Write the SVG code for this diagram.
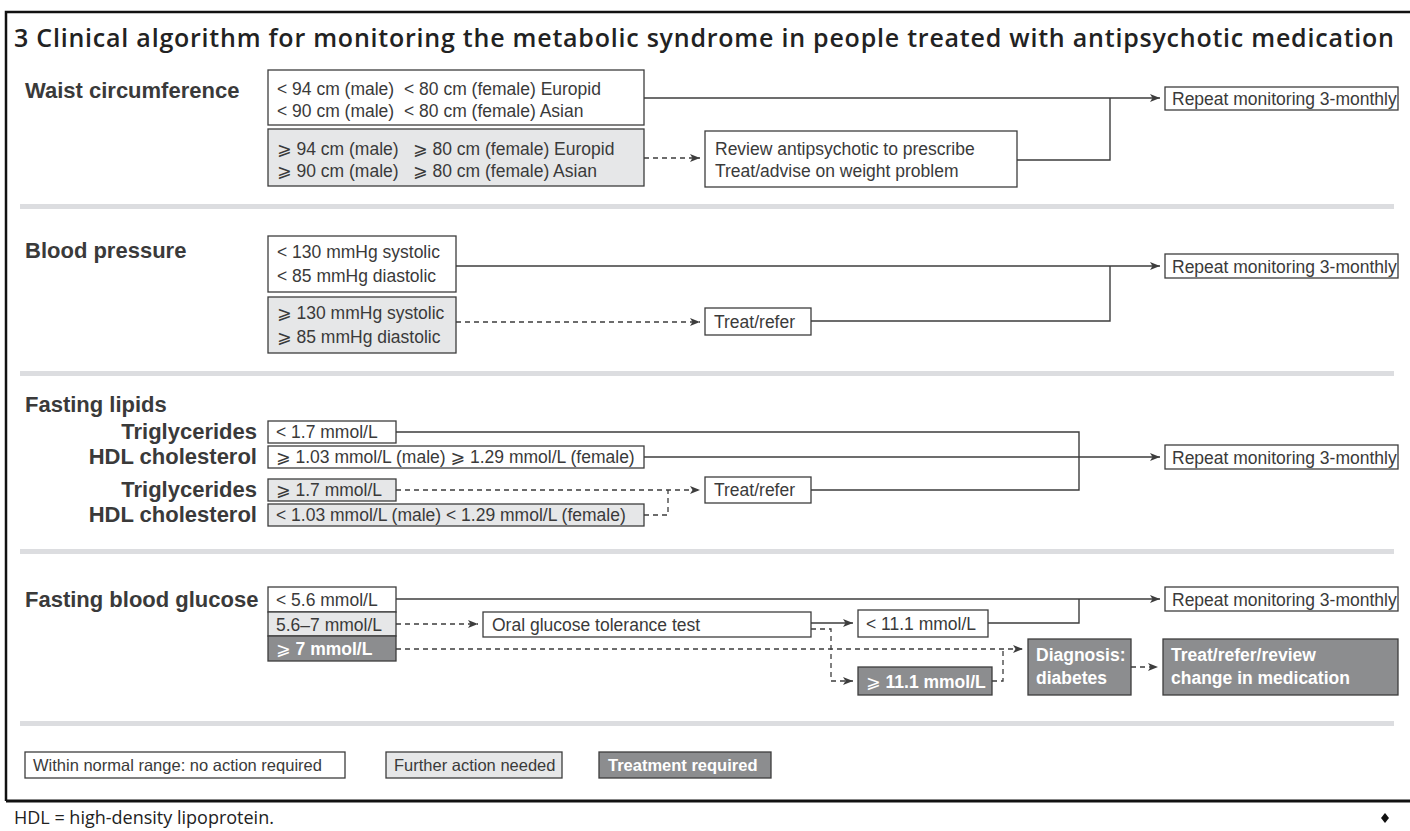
<svg xmlns="http://www.w3.org/2000/svg" width="1410" height="831" viewBox="0 0 1410 831">
<style>
  .bg{fill:#ffffff}
  .title{font-family:"Open Sans","Liberation Sans",sans-serif;font-weight:600;font-size:25px;fill:#222}
  .lbl{font-family:"Liberation Sans",Arial,sans-serif;font-weight:bold;font-size:22px;fill:#3a3a3a}
  .t{font-family:"Liberation Sans",Arial,"DejaVu Sans",sans-serif;font-size:17.5px;fill:#3a3a3a}
  .tw{font-family:"Liberation Sans",Arial,"DejaVu Sans",sans-serif;font-size:17.5px;fill:#ffffff;font-weight:bold}
  .lg{font-family:"Liberation Sans",Arial,sans-serif;font-size:16.5px;fill:#3a3a3a}
  .lgw{font-family:"Liberation Sans",Arial,sans-serif;font-size:16.5px;fill:#ffffff;font-weight:bold}
  .foot{font-family:"Open Sans","Liberation Sans",sans-serif;font-size:18px;fill:#222}
  .bw{fill:#ffffff;stroke:#3d3d3d;stroke-width:1.3}
  .bl{fill:#e6e7e8;stroke:#3d3d3d;stroke-width:1.3}
  .bd{fill:#8c8d8f;stroke:#3d3d3d;stroke-width:1.3}
  .sep{fill:#dcdde0}
  .c{fill:none;stroke:#3d3d3d;stroke-width:1.4}
  .d{fill:none;stroke:#3d3d3d;stroke-width:1.3;stroke-dasharray:5 4}
</style>
<defs>
  <marker id="ah" viewBox="0 0 10 8" refX="10" refY="4" markerWidth="10" markerHeight="8" markerUnits="userSpaceOnUse" orient="auto">
    <path d="M0,0 L10,4 L0,8 L2.5,4 z" fill="#3d3d3d"/>
  </marker>
</defs>
<rect class="bg" x="0" y="0" width="1410" height="831"/>

<!-- frame -->
<g id="frame">
  <path d="M6,801 V12 H1410" fill="none" stroke="#111" stroke-width="2.5"/>
  <line x1="6" y1="801" x2="1410" y2="801" stroke="#111" stroke-width="3"/>
</g>

<text class="title" x="14" y="47" textLength="1380">3  Clinical algorithm for monitoring the metabolic syndrome in people treated with antipsychotic medication</text>

<!-- separators -->
<g id="separators">
  <rect class="sep" x="20" y="204" width="1374" height="5"/>
  <rect class="sep" x="20" y="371" width="1374" height="5"/>
  <rect class="sep" x="20" y="549" width="1374" height="5"/>
  <rect class="sep" x="20" y="721" width="1374" height="5"/>
</g>

<!-- section labels -->
<g id="labels">
  <text class="lbl" x="25" y="98">Waist circumference</text>
  <text class="lbl" x="25" y="258">Blood pressure</text>
  <text class="lbl" x="25" y="412">Fasting lipids</text>
  <text class="lbl" x="257" y="439" text-anchor="end">Triglycerides</text>
  <text class="lbl" x="257" y="464" text-anchor="end">HDL cholesterol</text>
  <text class="lbl" x="257" y="497" text-anchor="end">Triglycerides</text>
  <text class="lbl" x="257" y="522" text-anchor="end">HDL cholesterol</text>
  <text class="lbl" x="25" y="607">Fasting blood glucose</text>
</g>

<!-- connectors -->
<g id="connectors">
  <!-- waist -->
  <path class="c" d="M644,98 H1160" marker-end="url(#ah)"/>
  <path class="d" d="M644,158 H700" marker-end="url(#ah)"/>
  <path class="c" d="M1017,160 H1110 V98"/>
  <!-- blood pressure -->
  <path class="c" d="M456,266 H1160" marker-end="url(#ah)"/>
  <path class="d" d="M456,322 H700" marker-end="url(#ah)"/>
  <path class="c" d="M811,321 H1110 V266"/>
  <!-- lipids -->
  <path class="c" d="M396,432 H1079 V490 H811"/>
  <path class="c" d="M644,457 H1160" marker-end="url(#ah)"/>
  <path class="d" d="M396,490 H700" marker-end="url(#ah)"/>
  <path class="d" d="M644,515 H668 V490"/>
  <!-- glucose -->
  <path class="c" d="M396,599 H1160" marker-end="url(#ah)"/>
  <path class="c" d="M988,623 H1079 V599"/>
  <path class="d" d="M396,624 H478" marker-end="url(#ah)"/>
  <path class="c" d="M811,623 H853" marker-end="url(#ah)"/>
  <path class="d" d="M811,629 H831 V681 H853" marker-end="url(#ah)"/>
  <path class="d" d="M396,649 H1023" marker-end="url(#ah)"/>
  <path class="d" d="M992,681 H1003 V649"/>
  <path class="d" d="M1131,667 H1158" marker-end="url(#ah)"/>
</g>

<!-- waist nodes -->
<g id="w-normal">
  <rect class="bw" x="268" y="70" width="376" height="55"/>
  <text class="t" x="277" y="95">&lt; 94 cm (male)</text>
  <text class="t" x="404" y="95">&lt; 80 cm (female) Europid</text>
  <text class="t" x="277" y="117">&lt; 90 cm (male)</text>
  <text class="t" x="404" y="117">&lt; 80 cm (female) Asian</text>
</g>
<g id="w-high">
  <rect class="bl" x="268" y="129" width="376" height="57"/>
  <text class="t" x="277" y="155">⩾ 94 cm (male)</text>
  <text class="t" x="413" y="155">⩾ 80 cm (female) Europid</text>
  <text class="t" x="277" y="177">⩾ 90 cm (male)</text>
  <text class="t" x="413" y="177">⩾ 80 cm (female) Asian</text>
</g>
<g id="w-review">
  <rect class="bw" x="705" y="131" width="312" height="56"/>
  <text class="t" x="715" y="155">Review antipsychotic to prescribe</text>
  <text class="t" x="715" y="177">Treat/advise on weight problem</text>
</g>
<g id="w-repeat">
  <rect class="bw" x="1165" y="87" width="233" height="23"/>
  <text class="t" x="1172" y="105">Repeat monitoring 3-monthly</text>
</g>

<!-- blood pressure nodes -->
<g id="bp-normal">
  <rect class="bw" x="268" y="236" width="188" height="56"/>
  <text class="t" x="277" y="258">&lt; 130 mmHg systolic</text>
  <text class="t" x="277" y="282">&lt; 85 mmHg diastolic</text>
</g>
<g id="bp-high">
  <rect class="bl" x="268" y="297" width="188" height="56"/>
  <text class="t" x="277" y="319">⩾ 130 mmHg systolic</text>
  <text class="t" x="277" y="343">⩾ 85 mmHg diastolic</text>
</g>
<g id="bp-treat">
  <rect class="bw" x="705" y="308" width="106" height="27"/>
  <text class="t" x="714" y="328">Treat/refer</text>
</g>
<g id="bp-repeat">
  <rect class="bw" x="1165" y="254" width="233" height="24"/>
  <text class="t" x="1172" y="273">Repeat monitoring 3-monthly</text>
</g>

<!-- lipid nodes -->
<g id="tg-normal">
  <rect class="bw" x="268" y="421" width="128" height="22"/>
  <text class="t" x="276" y="438">&lt; 1.7 mmol/L</text>
</g>
<g id="hdl-normal">
  <rect class="bw" x="268" y="446" width="376" height="22"/>
  <text class="t" x="276" y="463">⩾ 1.03 mmol/L (male) ⩾ 1.29 mmol/L (female)</text>
</g>
<g id="tg-high">
  <rect class="bl" x="268" y="479" width="128" height="22"/>
  <text class="t" x="276" y="496">⩾ 1.7 mmol/L</text>
</g>
<g id="hdl-low">
  <rect class="bl" x="268" y="504" width="376" height="22"/>
  <text class="t" x="276" y="521">&lt; 1.03 mmol/L (male) &lt; 1.29 mmol/L (female)</text>
</g>
<g id="lip-treat">
  <rect class="bw" x="705" y="477" width="106" height="26"/>
  <text class="t" x="714" y="496">Treat/refer</text>
</g>
<g id="lip-repeat">
  <rect class="bw" x="1165" y="445" width="233" height="24"/>
  <text class="t" x="1172" y="464">Repeat monitoring 3-monthly</text>
</g>

<!-- glucose nodes -->
<g id="g-normal">
  <rect class="bw" x="268" y="587" width="128" height="25"/>
  <text class="t" x="276" y="606">&lt; 5.6 mmol/L</text>
</g>
<g id="g-mid">
  <rect class="bl" x="268" y="612" width="128" height="24"/>
  <text class="t" x="276" y="631">5.6–7 mmol/L</text>
</g>
<g id="g-high">
  <rect class="bd" x="268" y="636" width="128" height="25"/>
  <text class="tw" x="276" y="655"><tspan font-weight="normal">⩾</tspan> 7 mmol/L</text>
</g>
<g id="ogtt">
  <rect class="bw" x="483" y="612" width="328" height="25"/>
  <text class="t" x="492" y="631">Oral glucose tolerance test</text>
</g>
<g id="ogtt-low">
  <rect class="bw" x="858" y="610" width="130" height="27"/>
  <text class="t" x="866" y="630">&lt; 11.1 mmol/L</text>
</g>
<g id="ogtt-high">
  <rect class="bd" x="858" y="667" width="134" height="28"/>
  <text class="tw" x="866" y="688"><tspan font-weight="normal">⩾</tspan> 11.1 mmol/L</text>
</g>
<g id="diagnosis">
  <rect class="bd" x="1028" y="639" width="103" height="56"/>
  <text class="tw" x="1036" y="661">Diagnosis:</text>
  <text class="tw" x="1036" y="684">diabetes</text>
</g>
<g id="g-treat">
  <rect class="bd" x="1163" y="639" width="235" height="56"/>
  <text class="tw" x="1171" y="661">Treat/refer/review</text>
  <text class="tw" x="1171" y="684">change in medication</text>
</g>
<g id="g-repeat">
  <rect class="bw" x="1165" y="587" width="233" height="24"/>
  <text class="t" x="1172" y="606">Repeat monitoring 3-monthly</text>
</g>

<!-- legend -->
<g id="legend">
  <rect class="bw" x="25" y="752" width="320" height="26"/>
  <text class="lg" x="33" y="771">Within normal range: no action required</text>
  <rect class="bl" x="386" y="752" width="176" height="26"/>
  <text class="lg" x="394" y="771">Further action needed</text>
  <rect class="bd" x="599" y="752" width="172" height="26"/>
  <text class="lgw" x="608" y="771">Treatment required</text>
</g>

<g id="footnote">
  <text class="foot" x="14" y="824">HDL = high-density lipoprotein.</text>
  <path d="M1385,813 L1389,818 L1385,823 L1381,818 z" fill="#111"/>
</g>
</svg>
